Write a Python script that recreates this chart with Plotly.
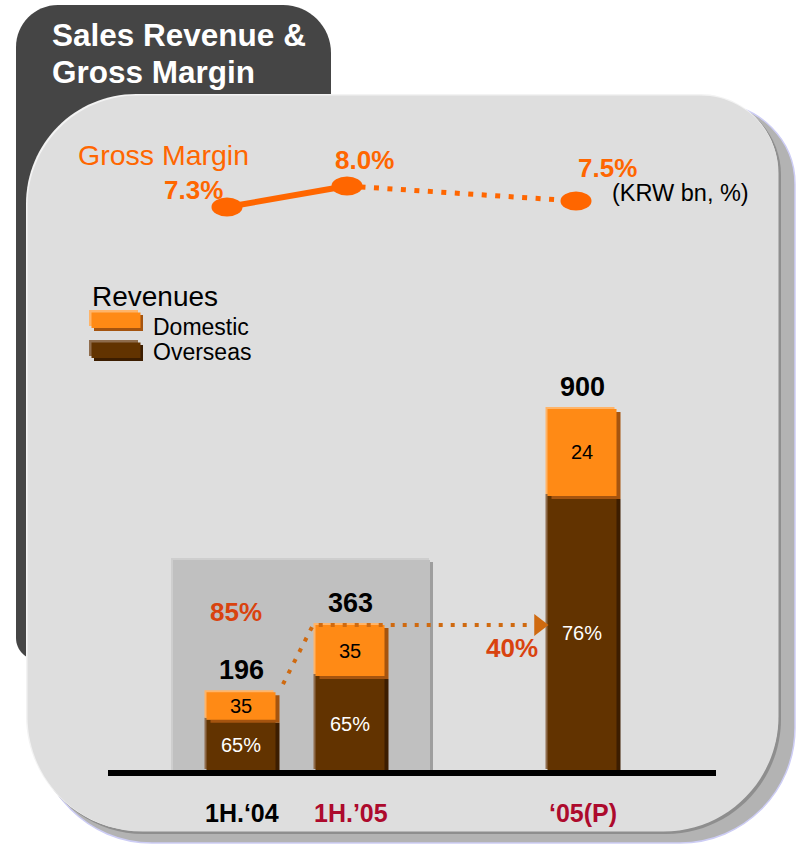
import plotly.graph_objects as go

# ---- data -------------------------------------------------------------
categories = ["1H.\u201804", "1H.\u201905", "\u201805(P)"]
totals = [196, 363, 900]            # KRW bn
domestic_share = [35, 35, 24]       # %
overseas_share = [65, 65, 76]       # %
gross_margin = [7.3, 8.0, 7.5]      # %
growth_labels = ["85%", "40%"]

# ---- layout constants ---------------------------------------------------
W, H = 800, 847
FONT = "Liberation Sans, Arial, sans-serif"
bar_x = [241, 350, 582]        # category slots on the pixel-wide x axis
margin_x = [227, 347, 576]
BW = 69                         # bar width (x-axis units = px)
Y0_PX = 771                     # baseline pixel row
PX_PER_UNIT = 362 / 900         # revenue axis scale
U = 1 / PX_PER_UNIT             # revenue units per pixel
cat_colors = ["#000000", "#AD0A2D", "#AD0A2D"]

ORANGE, ORANGE_LT, ORANGE_DK = "#FF8A15", "#FFB468", "#A5540F"
BROWN, BROWN_LT, BROWN_DK = "#623300", "#8F6C4C", "#3C1D00"
GM_COLOR = "#FF6600"
ARROW_COLOR = "#CF6A10"
GROWTH_COLOR = "#D9430F"


def px(x):
    return x / W


def py(y):
    return 1 - y / H


def rounded_path(x0, y0, x1, y1, rtl, rtr, rbr, rbl):
    """Closed rounded-rectangle path (pixel input, paper output)."""
    k = 0.5523
    P = lambda x, y: f"{px(x):.5f},{py(y):.5f}"
    d = [f"M{P(x0 + rtl, y0)}", f"L{P(x1 - rtr, y0)}"]
    if rtr:
        d.append(f"C{P(x1 - rtr + k * rtr, y0)} {P(x1, y0 + rtr - k * rtr)} {P(x1, y0 + rtr)}")
    d.append(f"L{P(x1, y1 - rbr)}")
    if rbr:
        d.append(f"C{P(x1, y1 - rbr + k * rbr)} {P(x1 - rbr + k * rbr, y1)} {P(x1 - rbr, y1)}")
    d.append(f"L{P(x0 + rbl, y1)}")
    if rbl:
        d.append(f"C{P(x0 + rbl - k * rbl, y1)} {P(x0, y1 - rbl + k * rbl)} {P(x0, y1 - rbl)}")
    d.append(f"L{P(x0, y0 + rtl)}")
    if rtl:
        d.append(f"C{P(x0, y0 + rtl - k * rtl)} {P(x0 + rtl - k * rtl, y0)} {P(x0 + rtl, y0)}")
    d.append("Z")
    return " ".join(d)


def path_shape(path, fill, layer="below", line=None):
    s = dict(type="path", xref="paper", yref="paper", path=path,
             fillcolor=fill, layer=layer, line=dict(width=0))
    if line:
        s["line"] = line
    return s


def rect(x0, y0, x1, y1, fill, layer="below"):
    return dict(type="rect", xref="paper", yref="paper",
                x0=px(x0), x1=px(x1), y0=py(y1), y1=py(y0),
                fillcolor=fill, line=dict(width=0), layer=layer)


shapes = []
# title tab
shapes.append(path_shape(rounded_path(16, 5, 331, 660, 42, 48, 0, 22), "#454545"))
# panel shadow, edges and face
shapes.append(path_shape(rounded_path(37, 104, 795, 843, 110, 80, 115, 115), "#B3B3B3",
                         line=dict(color="#CDCDF5", width=1.5)))
shapes.append(path_shape(rounded_path(29, 97, 781, 834, 110, 78, 115, 115), "#8E8E8E"))
shapes.append(path_shape(rounded_path(26, 94, 778, 831, 110, 78, 115, 115), "#F3F3F3"))
shapes.append(path_shape(rounded_path(27.5, 95.5, 778.5, 831.5, 110, 78, 115, 115), "#DEDEDE"))
# first-half block
shapes.append(rect(175, 562, 433, Y0_PX, "#9E9E9E"))
shapes.append(rect(171, 558, 429, Y0_PX, "#CECECE"))
shapes.append(rect(173, 560, 430, Y0_PX, "#C0C0C0"))
# baseline
shapes.append(rect(108, 770, 716, 776, "#000000", layer="above"))
# legend swatches
for top, (m, lt, dk) in zip([310, 340], [(ORANGE, ORANGE_LT, ORANGE_DK), (BROWN, BROWN_LT, BROWN_DK)]):
    shapes.append(rect(94, top + 5, 143, top + 21, dk))
    shapes.append(rect(89, top, 138, top + 16, lt))
    shapes.append(rect(91.5, top + 2.5, 140.5, top + 18, m))
# gross-margin points
for mx, g in zip(margin_x, gross_margin):
    shapes.append(dict(type="circle", xref="x", yref="y2", xsizemode="pixel", ysizemode="pixel",
                       xanchor=mx, yanchor=g, x0=-15.5, x1=15.5, y0=-9.5, y1=9.5,
                       fillcolor=GM_COLOR, line=dict(width=0), layer="above"))

fig = go.Figure()

# ---- stacked revenue bars ---------------------------------------------
overseas = [t * s / 100 for t, s in zip(totals, overseas_share)]
domestic = [t * s / 100 for t, s in zip(totals, domestic_share)]


def add_segment(base, length, main, light, dark):
    common = dict(x=bar_x, y=length, width=BW, hoverinfo="skip",
                  marker_line_width=0, xaxis="x", yaxis="y")
    fig.add_bar(base=[b + 2 * U for b in base], offset=-BW / 2 - 2, marker_color=light, **common)
    fig.add_bar(base=[b - 3 * U for b in base], offset=-BW / 2 + 4, marker_color=dark, **common)
    fig.add_bar(base=base, offset=-BW / 2, marker_color=main, **common)


add_segment([0, 0, 0], overseas, BROWN, BROWN_LT, BROWN_DK)
add_segment(overseas, domestic, ORANGE, ORANGE_LT, ORANGE_DK)

# growth arrow: from the 1H.'04 top up to the 1H.'05 level, then across
fig.add_scatter(x=[bar_x[0] + 42, bar_x[1] - 37, bar_x[2] - 51],
                y=[totals[0] + 20, totals[1], totals[1]],
                mode="lines", line=dict(color=ARROW_COLOR, width=4, dash="4px,8px"),
                hoverinfo="skip", xaxis="x", yaxis="y")
fig.add_scatter(x=[bar_x[2] - 43], y=[totals[1]], mode="markers",
                marker=dict(symbol="triangle-right", size=19, color=ARROW_COLOR),
                hoverinfo="skip", xaxis="x", yaxis="y")

# ---- gross margin line ----------------------------------------------------
fig.add_scatter(x=margin_x[:2], y=gross_margin[:2], mode="lines",
                line=dict(color=GM_COLOR, width=6), hoverinfo="skip", xaxis="x", yaxis="y2")
fig.add_scatter(x=margin_x[1:], y=gross_margin[1:], mode="lines",
                line=dict(color=GM_COLOR, width=5, dash="5px,8.5px"), hoverinfo="skip",
                xaxis="x", yaxis="y2")

# ---- text -----------------------------------------------------------------
ann = []


def paper_text(text, x, y, size, color, xanchor="center", bold=False):
    t = f"<b>{text}</b>" if bold else text
    ann.append(dict(text=t, x=px(x), y=py(y), xref="paper", yref="paper",
                    xanchor=xanchor, yanchor="middle", showarrow=False,
                    font=dict(family=FONT, size=size, color=color)))


paper_text("Sales Revenue &", 50, 35, 31.5, "#FFFFFF", "left", True)
paper_text("Gross Margin", 50, 72, 31.5, "#FFFFFF", "left", True)
paper_text("Gross Margin", 76, 155, 28.5, GM_COLOR, "left")
paper_text("(KRW bn, %)", 610, 193, 23.5, "#000000", "left")
paper_text("Revenues", 90, 296, 28, "#000000", "left")
paper_text("Domestic", 151, 327, 23, "#000000", "left")
paper_text("Overseas", 151, 352, 23, "#000000", "left")
paper_text(growth_labels[0], 236, 612, 26, GROWTH_COLOR, bold=True)
paper_text(growth_labels[1], 512, 648, 26, GROWTH_COLOR, bold=True)
for xc, cat, col in zip(bar_x, categories, cat_colors):
    paper_text(cat, xc + 1, 813, 25, col, bold=True)

# gross margin value labels
gm_shift = [(-34, 17), (17, 26), (31, 33)]
for mx, g, (dx, dy) in zip(margin_x, gross_margin, gm_shift):
    ann.append(dict(text=f"<b>{g:.1f}%</b>", x=mx, y=g, xref="x", yref="y2",
                    xshift=dx, yshift=dy, showarrow=False,
                    font=dict(family=FONT, size=26, color=GM_COLOR)))

# totals and in-bar shares
for xc, t, o, d, ds, os_ in zip(bar_x, totals, overseas, domestic, domestic_share, overseas_share):
    ann.append(dict(text=f"<b>{t}</b>", x=xc, y=t, xref="x", yref="y", yshift=22,
                    showarrow=False, font=dict(family=FONT, size=27, color="#000000")))
    ann.append(dict(text=f"{ds}", x=xc, y=o + d / 2, xref="x", yref="y",
                    showarrow=False, font=dict(family=FONT, size=20, color="#000000")))
    ann.append(dict(text=f"{os_}%", x=xc, y=o / 2, xref="x", yref="y",
                    showarrow=False, font=dict(family=FONT, size=20, color="#FFFFFF")))

fig.update_layout(
    width=W, height=H, margin=dict(l=0, r=0, t=0, b=0),
    paper_bgcolor="#FFFFFF", plot_bgcolor="rgba(0,0,0,0)",
    barmode="overlay", showlegend=False,
    shapes=shapes, annotations=ann,
    xaxis=dict(range=[0, W], domain=[0, 1], visible=False, fixedrange=True),
    yaxis=dict(range=[0, 1000], domain=[py(Y0_PX), py(Y0_PX - 1000 * PX_PER_UNIT)],
               visible=False, fixedrange=True),
    yaxis2=dict(range=[6, 9], domain=[py(246), py(156)], anchor="x",
                visible=False, fixedrange=True),
)

fig.write_html("out.html")
